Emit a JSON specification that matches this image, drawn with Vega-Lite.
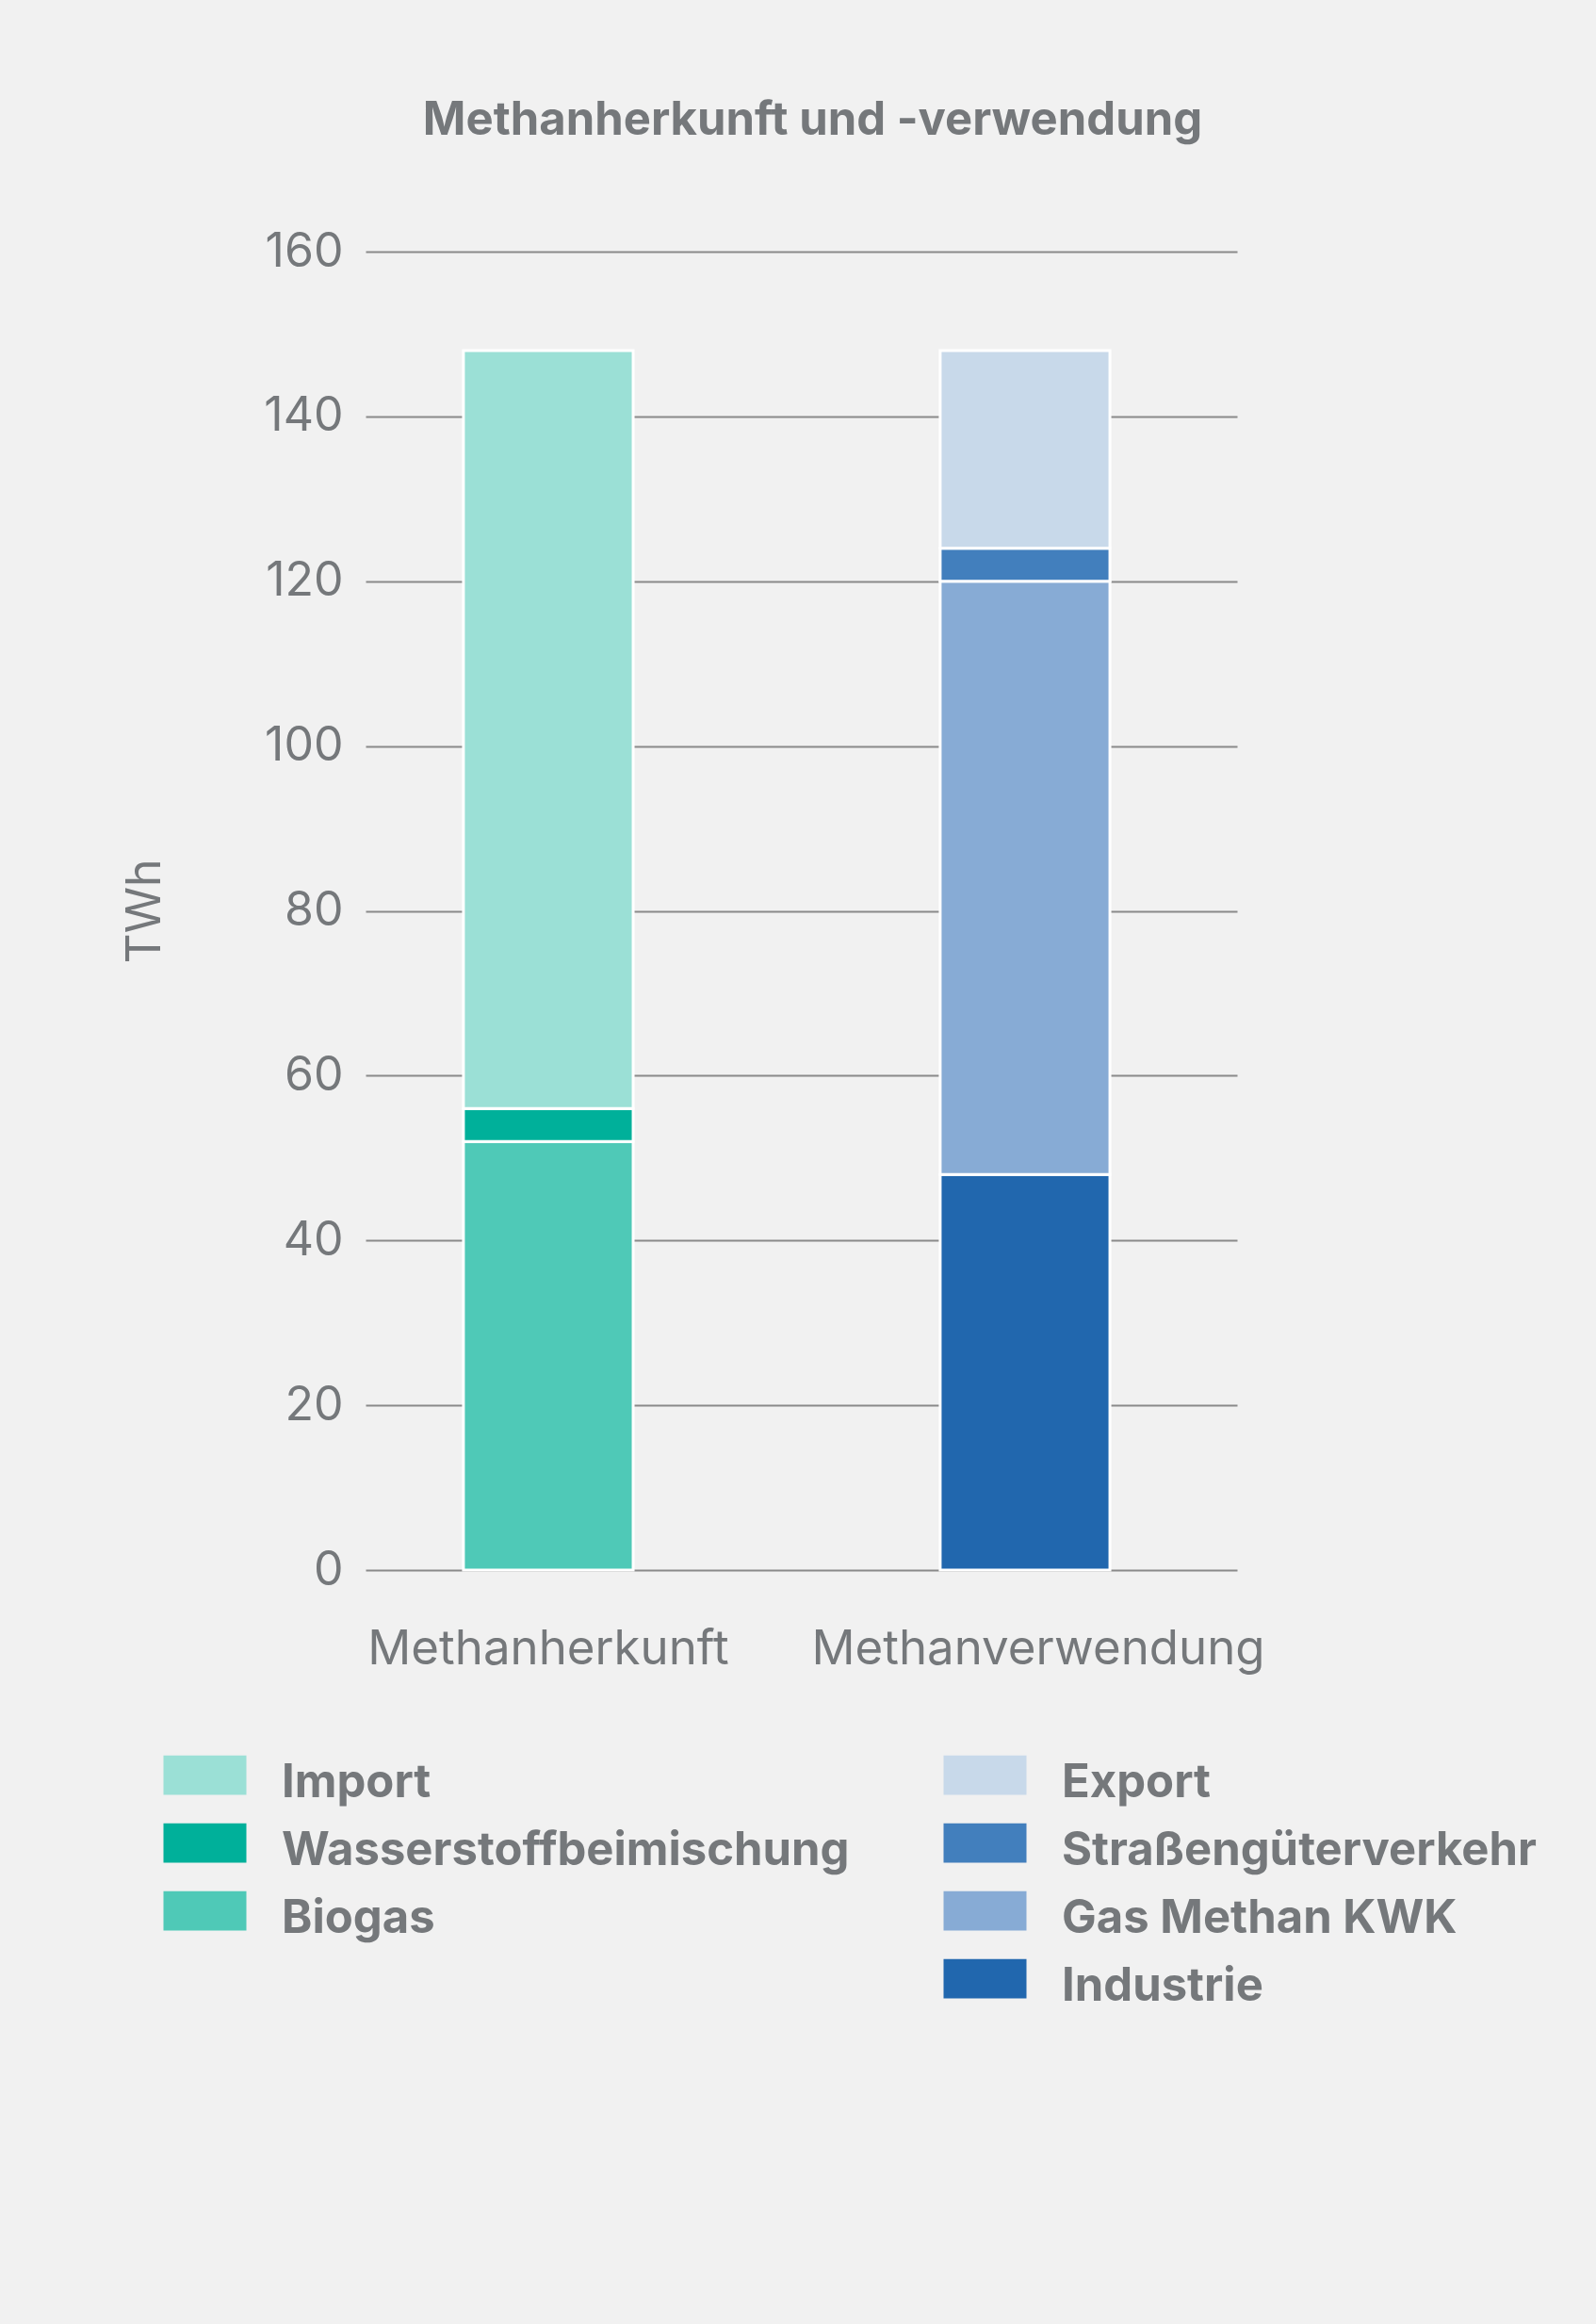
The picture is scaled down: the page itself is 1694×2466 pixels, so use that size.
{
  "$schema": "https://vega.github.io/schema/vega-lite/v6.json",
  "autosize": "none",
  "width": 925,
  "height": 1399,
  "padding": {"left": 388, "top": 267, "right": 381, "bottom": 800},
  "background": "#f1f1f1",
  "title": {
    "text": "Methanherkunft und -verwendung",
    "anchor": "middle",
    "frame": "group",
    "dx": 12,
    "offset": 89,
    "font": "Inter",
    "fontSize": 49,
    "fontWeight": "bold",
    "color": "#75787b"
  },
  "data": {
    "values": [
      {"gruppe": "Methanherkunft", "kategorie": "Biogas", "twh": 52, "rang": 1},
      {"gruppe": "Methanherkunft", "kategorie": "Wasserstoffbeimischung", "twh": 4, "rang": 2},
      {"gruppe": "Methanherkunft", "kategorie": "Import", "twh": 92, "rang": 3},
      {"gruppe": "Methanverwendung", "kategorie": "Industrie", "twh": 48, "rang": 1},
      {"gruppe": "Methanverwendung", "kategorie": "Gas Methan KWK", "twh": 72, "rang": 2},
      {"gruppe": "Methanverwendung", "kategorie": "Straßengüterverkehr", "twh": 4, "rang": 3},
      {"gruppe": "Methanverwendung", "kategorie": "Export", "twh": 24, "rang": 4}
    ]
  },
  "encoding": {
    "x": {
      "field": "gruppe",
      "type": "nominal",
      "sort": ["Methanherkunft", "Methanverwendung"],
      "scale": {"domain": ["Methanherkunft", "Methanverwendung"], "paddingInner": 0.644, "paddingOuter": 0.236, "align": 0.435},
      "axis": {
        "title": null,
        "labelAngle": 0,
        "domain": false,
        "ticks": false,
        "grid": false,
        "labelPadding": 59,
        "labelFont": "Inter",
        "labelFontSize": 51,
        "labelColor": "#75787b",
        "labelLimit": 1000,
        "labelOffset": {"condition": {"test": "datum.value === 'Methanverwendung'", "value": 14}, "value": 0}
      }
    },
    "y": {
      "field": "twh",
      "type": "quantitative",
      "stack": "zero",
      "scale": {"domain": [0, 160], "nice": false},
      "axis": {
        "values": [0, 20, 40, 60, 80, 100, 120, 140, 160],
        "title": "TWh",
        "titleFont": "Inter",
        "titleFontSize": 50,
        "titleFontWeight": "normal",
        "titleColor": "#75787b",
        "titlePadding": 100,
        "grid": true,
        "gridColor": "#8a8a8a",
        "gridWidth": 2,
        "domain": false,
        "ticks": false,
        "labelPadding": 24,
        "labelFont": "Inter",
        "labelFontSize": 50,
        "labelColor": "#75787b"
      }
    },
    "order": {"field": "rang", "type": "quantitative", "sort": "ascending"}
  },
  "layer": [
    {
      "transform": [{"filter": "datum.gruppe === 'Methanherkunft'"}],
      "mark": {"type": "bar", "stroke": "#ffffff", "strokeWidth": 3},
      "encoding": {
        "color": {
          "field": "kategorie",
          "type": "nominal",
          "scale": {
            "domain": ["Import", "Wasserstoffbeimischung", "Biogas"],
            "range": ["#9be0d6", "#00b09a", "#4fc9b7"]
          },
          "legend": {"legendX": -195, "legendY": 1600}
        }
      }
    },
    {
      "transform": [{"filter": "datum.gruppe === 'Methanverwendung'"}],
      "mark": {"type": "bar", "stroke": "#ffffff", "strokeWidth": 3},
      "encoding": {
        "color": {
          "field": "kategorie",
          "type": "nominal",
          "scale": {
            "domain": ["Export", "Straßengüterverkehr", "Gas Methan KWK", "Industrie"],
            "range": ["#c8d9ea", "#427fbd", "#87abd5", "#2167ae"]
          },
          "legend": {"legendX": 633, "legendY": 1600}
        }
      }
    }
  ],
  "resolve": {"scale": {"color": "independent"}},
  "config": {
    "view": {"stroke": null},
    "legend": {
      "orient": "none",
      "title": null,
      "symbolType": "M-2,-1.31L2,-1.31L2,0.59L-2,0.59Z",
      "symbolSize": 1936,
      "symbolStrokeWidth": 0,
      "symbolOpacity": 1,
      "labelFont": "Inter",
      "labelFontSize": 49,
      "labelFontWeight": "bold",
      "labelColor": "#75787b",
      "labelOffset": 57,
      "labelLimit": 1000,
      "rowPadding": 17,
      "padding": 0
    }
  }
}
